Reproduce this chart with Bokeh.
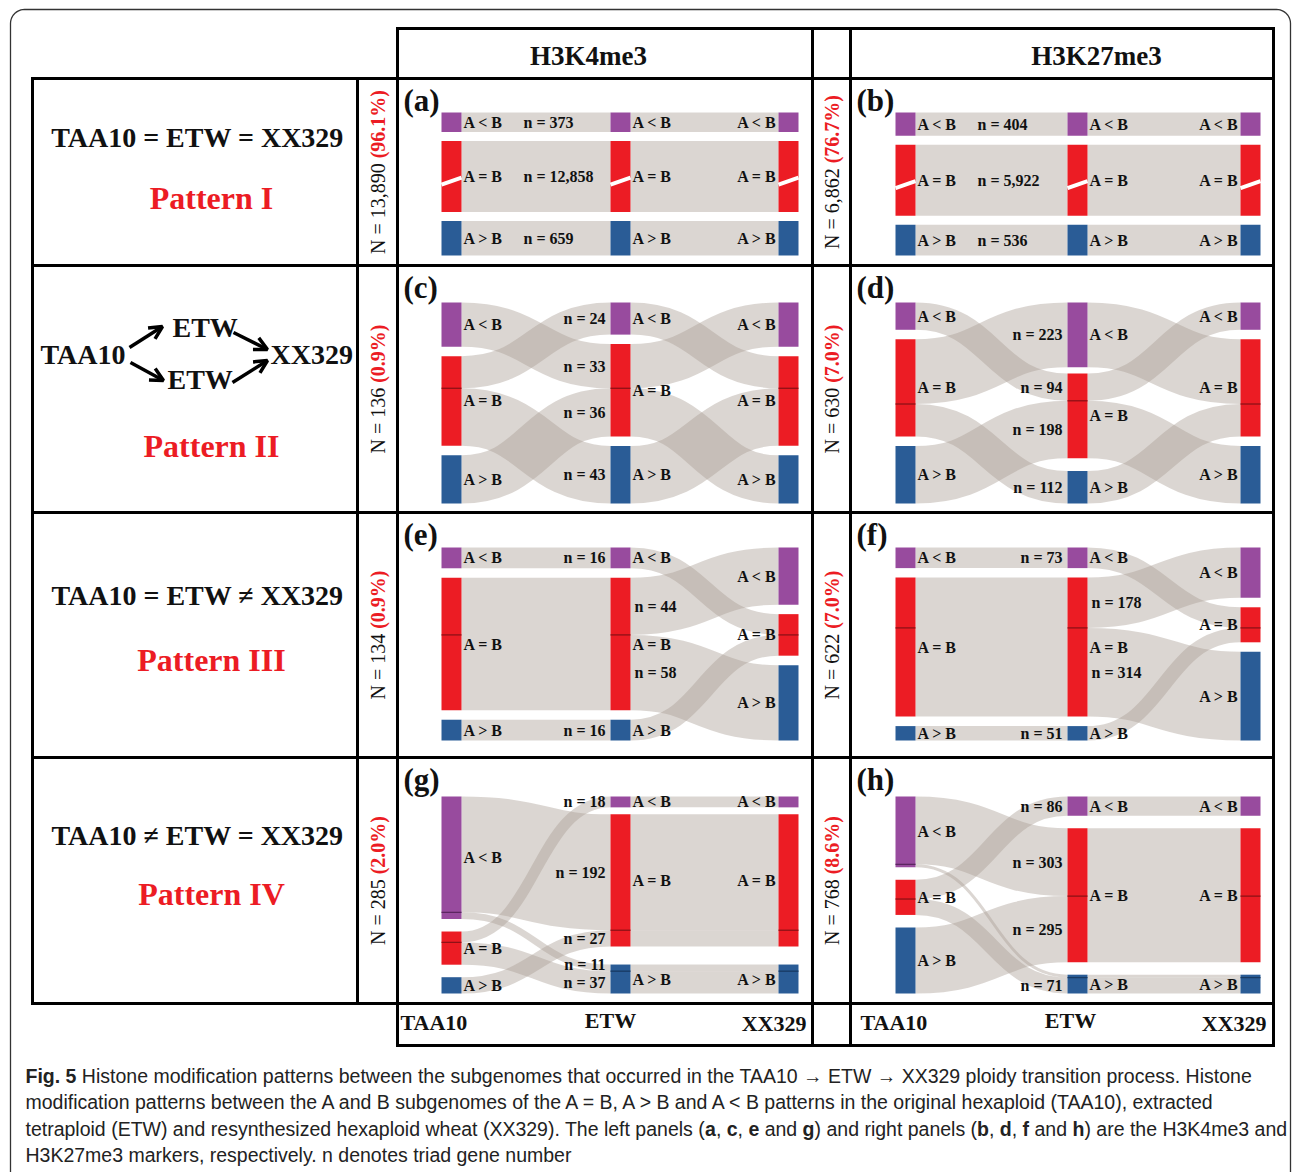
import math
from bokeh.plotting import figure
from bokeh.models import Range1d, Arrow, OpenHead
from bokeh.core.properties import value
from bokeh.embed import file_html
from bokeh.resources import INLINE

# ---------------- data ----------------
stages = ["TAA10", "ETW", "XX329"]
marks = ["H3K4me3", "H3K27me3"]
states = ["<", "=", ">"]
state_labels = {"<": "A < B", "=": "A = B", ">": "A > B"}
pattern_names = ["Pattern I", "Pattern II", "Pattern III", "Pattern IV"]
pattern_rules = ["TAA10 = ETW = XX329", "", "TAA10 = ETW \u2260 XX329", "TAA10 \u2260 ETW = XX329"]
panel_letters = ["a", "b", "c", "d", "e", "f", "g", "h"]
total_k4 = [13890, 136, 134, 285]
share_k4 = ["96.1%", "0.9%", "0.9%", "2.0%"]
total_k27 = [6862, 630, 622, 768]
share_k27 = ["76.7%", "7.0%", "7.0%", "8.6%"]

# triad trajectories: (TAA10 state, ETW state, XX329 state, n)
flows_a = [("<", "<", "<", 373), ("=", "=", "=", 12858), (">", ">", ">", 659)]
flows_b = [("<", "<", "<", 404), ("=", "=", "=", 5922), (">", ">", ">", 536)]
flows_c = [("<", "=", "<", 33), ("=", "<", "=", 24), ("=", ">", "=", 43), (">", "=", ">", 36)]
flows_d = [("<", "=", "<", 94), ("=", "<", "=", 223), ("=", ">", "=", 112), (">", "=", ">", 198)]
flows_e = [("<", "<", "=", 16), ("=", "=", "<", 44), ("=", "=", ">", 58), (">", ">", "=", 16)]
flows_f = [("<", "<", "=", 73), ("=", "=", "<", 178), ("=", "=", ">", 314), (">", ">", "=", 51)]
flows_g = [("<", "=", "=", 192), ("<", ">", ">", 11), ("=", "<", "<", 18), ("=", ">", ">", 37), (">", "=", "=", 27)]
flows_h = [("<", "=", "=", 303), ("<", ">", ">", 13), ("=", "<", "<", 86), ("=", ">", ">", 71), (">", "=", "=", 295)]
unlabeled_flows = {"h": [("<", ">", ">")]}

caption_lines = [
    [("Fig. 5", True), (" Histone modification patterns between the subgenomes that occurred in the TAA10 \u2192 ETW \u2192 XX329 ploidy transition process. Histone", False)],
    [("modification patterns between the A and B subgenomes of the A = B, A > B and A < B patterns in the original hexaploid (TAA10), extracted", False)],
    [("tetraploid (ETW) and resynthesized hexaploid wheat (XX329). The left panels (", False), ("a", True), (", ", False), ("c", True),
     (", ", False), ("e", True), (" and ", False), ("g", True), (") and right panels (", False), ("b", True), (", ", False), ("d", True),
     (", ", False), ("f", True), (" and ", False), ("h", True), (") are the H3K4me3 and", False)],
    [("H3K27me3 markers, respectively. n denotes triad gene number", False)],
]

# ---------------- style / layout ----------------
SERIF = value("Liberation Serif")
CAPFONT = value("Liberation Sans")
ROW_TOP = [78, 265, 512, 757, 1003]
NODE_SPAN = [(112, 255), (302, 503), (547, 740), (796, 993)]
NODE_GAP = [9, 9.5, 9.5, 12.5]
COL_X = [[441, 610, 778], [895, 1067, 1240]]
CELL_X = [397, 850]
NLAB_X = [377, 831]
NODE_W = 20
BREAK_H = 71
LABEL_MIN_SEP = 18
GAP_SPLIT = {("d", 1): 0.33, ("g", 1): 0.28, ("g", 2): 0.28}
NODE_COL = {"<": "#984B9E", "=": "#EC1C24", ">": "#2A5C96"}
NODE_DARK = {"<": "#5B2660", "=": "#8E1116", ">": "#183A63"}
LINK_COL = "#A99E94"
LINK_ALPHA = 0.42
RED = "#EC1C24"
INK = "#111111"

W, H = 1292, 1172
p = figure(width=W, height=H, x_range=Range1d(0, W), y_range=Range1d(H, 0),
           output_backend="svg", toolbar_location=None, min_border=0,
           x_axis_location=None, y_axis_location=None, outline_line_color=None)
p.grid.visible = False

# outer rounded frame
def arc(cx, cy, r, a0, a1):
    pts = [a0 + (a1 - a0) * i / 12 for i in range(13)]
    return [cx + r * math.cos(a) for a in pts], [cy + r * math.sin(a) for a in pts]

r = 14
fx, fy = [10], [1180]
ax, ay = arc(10 + r, 9 + r, r, math.pi, 1.5 * math.pi)
fx += ax; fy += ay
ax, ay = arc(1290 - r, 9 + r, r, 1.5 * math.pi, 2 * math.pi)
fx += ax; fy += ay
fx += [1290]; fy += [1180]
p.line(fx, fy, line_color="#333333", line_width=1.3)

# ---------------- sankey layout ----------------
def layout(key, flows, row):
    y0, y1 = NODE_SPAN[row]
    span = y1 - y0
    gap = NODE_GAP[row]
    tot = [{s: 0 for s in states} for _ in range(3)]
    for f in flows:
        for c in range(3):
            tot[c][f[c]] += f[3]
    broken = row == 0
    if broken:
        small = tot[0]["<"] + tot[0][">"]
        k = (span - 2 * gap - BREAK_H) / small
    else:
        k = (span - 2 * gap) / max(sum(t.values()) for t in tot)
    nodes, segs = {}, {}
    order_keys = [(1, 2), (0, 2), (1, 0)]
    for c in range(3):
        hs = {s: (BREAK_H if (broken and s == "=") else tot[c][s] * k) for s in states}
        free = span - sum(hs.values())
        fr = GAP_SPLIT.get((key, c), 0.5)
        gaps = [0, free * fr, free * (1 - fr)]
        y = y0
        for i, s in enumerate(states):
            y += gaps[i]
            nodes[(c, s)] = (y, y + hs[s])
            ok = order_keys[c]
            members = [fi for fi, f in enumerate(flows) if f[c] == s]
            members.sort(key=lambda fi: (states.index(flows[fi][ok[0]]), states.index(flows[fi][ok[1]])))
            yy = y
            for fi in members:
                hh = hs[s] * flows[fi][3] / tot[c][s]
                segs[(fi, c)] = (yy, yy + hh)
                yy += hh
            y += hs[s]
    return nodes, segs, broken

panels = [("a", flows_a), ("b", flows_b), ("c", flows_c), ("d", flows_d),
          ("e", flows_e), ("f", flows_f), ("g", flows_g), ("h", flows_h)]

bz = dict(x0=[], y0=[], x1=[], y1=[], cx0=[], cy0=[], cx1=[], cy1=[], w=[])
nq = dict(l=[], r=[], t=[], b=[], c=[])
sep = dict(x0=[], x1=[], y=[], c=[])
slash = dict(x0=[], x1=[], y0=[], y1=[])
lab_l = dict(x=[], y=[], t=[])
lab_r = dict(x=[], y=[], t=[])
nlab_l = dict(x=[], y=[], t=[])
nlab_r = dict(x=[], y=[], t=[])

def add_spread(store, items):
    # keep count labels of one panel from overlapping: push upper ones up
    items = sorted(items, key=lambda it: -it[1])
    for j in range(1, len(items)):
        if items[j][1] > items[j - 1][1] - LABEL_MIN_SEP:
            items[j] = (items[j][0], items[j - 1][1] - LABEL_MIN_SEP, items[j][2])
    for xx, yy, tt in items:
        store["x"].append(xx); store["y"].append(yy); store["t"].append(tt)

for i, (key, flows) in enumerate(panels):
    row, side = i // 2, i % 2
    cx = COL_X[side]
    nodes, segs, broken = layout(key, flows, row)
    for fi, f in enumerate(flows):
        for c in range(2):
            s0 = segs[(fi, c)]
            s1 = segs[(fi, c + 1)]
            xa, xb = cx[c] + NODE_W, cx[c + 1]
            ya, yb = (s0[0] + s0[1]) / 2, (s1[0] + s1[1]) / 2
            xm = (xa + xb) / 2
            bz["x0"].append(xa); bz["y0"].append(ya); bz["x1"].append(xb); bz["y1"].append(yb)
            bz["cx0"].append(xm); bz["cy0"].append(ya); bz["cx1"].append(xm); bz["cy1"].append(yb)
            bz["w"].append(s0[1] - s0[0])
    for c in range(3):
        for s in states:
            t, b = nodes[(c, s)]
            nq["l"].append(cx[c]); nq["r"].append(cx[c] + NODE_W)
            nq["t"].append(t); nq["b"].append(b); nq["c"].append(NODE_COL[s])
            bounds = sorted(v[1] for (fi, cc), v in segs.items() if cc == c and flows[fi][c] == s)
            for yb_ in bounds[:-1]:
                sep["x0"].append(cx[c]); sep["x1"].append(cx[c] + NODE_W); sep["y"].append(yb_); sep["c"].append(NODE_DARK[s])
            yc = (t + b) / 2
            if broken and s == "=":
                slash["x0"].append(cx[c]); slash["x1"].append(cx[c] + NODE_W)
                slash["y0"].append(yc + 8); slash["y1"].append(yc + 1)
            if c < 2:
                lab_l["x"].append(cx[c] + NODE_W + 2); lab_l["y"].append(yc); lab_l["t"].append(state_labels[s])
            else:
                lab_r["x"].append(cx[c] - 2); lab_r["y"].append(yc); lab_r["t"].append(state_labels[s])
    skip = unlabeled_flows.get(key, [])
    left_items, right_items = [], []
    for fi, f in enumerate(flows):
        if tuple(f[:3]) in skip:
            continue
        txt = "n = {:,}".format(f[3])
        if row == 0:
            s0 = segs[(fi, 0)]
            left_items.append((cx[0] + NODE_W + 62, (s0[0] + s0[1]) / 2, txt))
        else:
            s1 = segs[(fi, 1)]
            ym = (s1[0] + s1[1]) / 2
            if row == 2 and f[1] == "=":
                left_items.append((cx[1] + NODE_W + 4, ym, txt))
            else:
                right_items.append((cx[1] - 5, ym, txt))
    add_spread(nlab_l, left_items)
    add_spread(nlab_r, right_items)

p.bezier(x0="x0", y0="y0", x1="x1", y1="y1", cx0="cx0", cy0="cy0", cx1="cx1", cy1="cy1",
         source=bz, line_color=LINK_COL, line_alpha=LINK_ALPHA, line_width="w", line_cap="butt")
p.quad(left="l", right="r", top="t", bottom="b", fill_color="c", line_color=None, source=nq)
p.segment(x0="x0", x1="x1", y0="y", y1="y", line_color="c", line_width=1.3, source=sep)
p.segment(x0="x0", x1="x1", y0="y0", y1="y1", line_color="white", line_width=4, source=slash)

lab_kw = dict(text_font=SERIF, text_font_size="16px", text_font_style="bold",
              text_color=INK, text_baseline="middle")
p.text(x="x", y="y", text="t", source=lab_l, text_align="left", **lab_kw)
p.text(x="x", y="y", text="t", source=lab_r, text_align="right", **lab_kw)
p.text(x="x", y="y", text="t", source=nlab_l, text_align="left", **lab_kw)
p.text(x="x", y="y", text="t", source=nlab_r, text_align="right", **lab_kw)

for i, L in enumerate(panel_letters):
    row, side = i // 2, i % 2
    p.text(x=[CELL_X[side] + 6], y=[ROW_TOP[row] + 22], text=["(" + L + ")"], text_font=SERIF,
           text_font_size="31px", text_font_style="bold", text_color=INK,
           text_align="left", text_baseline="middle")

# ---------------- table grid ----------------
hlines = [(397, 1273, 28), (32, 1273, 78), (32, 1273, 265), (32, 1273, 512),
          (32, 1273, 757), (32, 1273, 1003), (397, 1273, 1045)]
vlines = [(32, 78, 1003), (357, 78, 1003), (397, 28, 1045), (812, 28, 1045),
          (850, 28, 1045), (1273, 28, 1045)]
p.segment(x0=[h[0] for h in hlines], x1=[h[1] for h in hlines], y0=[h[2] for h in hlines],
          y1=[h[2] for h in hlines], line_color="black", line_width=3, line_cap="square")
p.segment(x0=[v[0] for v in vlines], x1=[v[0] for v in vlines], y0=[v[1] for v in vlines],
          y1=[v[2] for v in vlines], line_color="black", line_width=3, line_cap="square")

head_kw = dict(text_font=SERIF, text_font_style="bold", text_color=INK, text_baseline="middle")
p.text(x=[588, 1096], y=[55, 55], text=marks, text_font_size="27px", text_align="center", **head_kw)
for side in range(2):
    p.text(x=[[400, 860][side]], y=[1022], text=[stages[0]], text_font_size="22px", text_align="left", **head_kw)
    p.text(x=[[610, 1070][side]], y=[1020], text=[stages[1]], text_font_size="22px", text_align="center", **head_kw)
    p.text(x=[[806, 1266][side]], y=[1023], text=[stages[2]], text_font_size="22px", text_align="right", **head_kw)

rule_y = [137, None, 595, 835]
name_y = [197, 445, 659, 893]
for rI in range(4):
    if pattern_rules[rI]:
        p.text(x=[197], y=[rule_y[rI]], text=[pattern_rules[rI]], text_font_size="28px",
               text_align="center", **head_kw)
    p.text(x=[211], y=[name_y[rI]], text=[pattern_names[rI]], text_font=SERIF, text_font_size="32px",
           text_font_style="bold", text_color=RED, text_align="center", text_baseline="middle")

p.text(x=[40, 172, 167, 270], y=[354, 327, 379, 354], text=["TAA10", "ETW", "ETW", "XX329"],
       text_font_size="28px", text_align="left", **head_kw)
for (xa, ya, xb, yb) in [(129, 347, 162, 326), (130, 362, 163, 380), (233, 332, 267, 349), (232, 382, 267, 360)]:
    p.add_layout(Arrow(end=OpenHead(size=13, line_width=3.5, line_color="black"),
                       x_start=xa, y_start=ya, x_end=xb, y_end=yb, line_width=3.5, line_color="black"))

TR = {" ": 250, "N": 722, "=": 564, ",": 250, ".": 250, "(": 333, ")": 333, "%": 833}
TB = {" ": 250, "N": 722, "=": 570, ",": 250, ".": 250, "(": 333, ")": 333, "%": 1000}
def tw_times(s, size, tab):
    return sum(tab.get(ch, 500) for ch in s) * size / 1000.0

NFS = 20
for side, (tots, shares) in enumerate([(total_k4, share_k4), (total_k27, share_k27)]):
    for rI in range(4):
        black = "N = {:,} ".format(tots[rI])
        red = "(" + shares[rI] + ")"
        wb, wr = tw_times(black, NFS, TR), tw_times(red, NFS, TB)
        yc = (ROW_TOP[rI] + ROW_TOP[rI + 1]) / 2
        ys = yc + (wb + wr) / 2
        p.text(x=[NLAB_X[side]], y=[ys], text=[black.strip()], angle=math.pi / 2, text_font=SERIF,
               text_font_size="%dpx" % NFS, text_color=INK, text_align="left", text_baseline="middle")
        p.text(x=[NLAB_X[side]], y=[ys - wb], text=[red], angle=math.pi / 2, text_font=SERIF,
               text_font_size="%dpx" % NFS, text_font_style="bold", text_color=RED,
               text_align="left", text_baseline="middle")

# ---------------- caption ----------------
HR = dict(zip(" !()*+,-./:;<=>", [278, 278, 333, 333, 389, 584, 278, 333, 278, 278, 278, 278, 584, 584, 584]))
HR.update({d: 556 for d in "0123456789"})
HR.update(dict(zip("ABCDEFGHIJKLMNOPQRSTUVWXYZ",
                   [667, 667, 722, 722, 667, 611, 778, 722, 278, 500, 667, 556, 833, 722, 778, 667, 778, 722, 667, 611, 722, 667, 944, 667, 667, 611])))
HR.update(dict(zip("abcdefghijklmnopqrstuvwxyz",
                   [556, 556, 500, 556, 556, 278, 556, 556, 222, 222, 500, 222, 833, 556, 556, 556, 556, 333, 500, 278, 556, 500, 722, 500, 500, 500])))
HR["\u2192"] = 1000
HB = dict(HR)
HB.update({"a": 556, "b": 611, "c": 556, "d": 611, "e": 556, "f": 333, "g": 611, "h": 611, "i": 278, "F": 611, ".": 278, " ": 278})

def tw_cap(s, size, bold):
    tab = HB if bold else HR
    return sum(tab.get(ch, 556) for ch in s) * size / 1000.0

line1_units = sum(tw_cap(t, 1000, b) for t, b in caption_lines[0])
CFS = round(1225.0 / line1_units * 1000, 1)
cap_y = [1075, 1101.5, 1128, 1154.5]
for li, runs in enumerate(caption_lines):
    x = 25.0
    for t, b in runs:
        lead = len(t) - len(t.lstrip(" "))
        core = t.strip(" ")
        if core:
            p.text(x=[x + tw_cap(" " * lead, CFS, b)], y=[cap_y[li]], text=[core], text_font=CAPFONT,
                   text_font_size="%.1fpx" % CFS, text_font_style="bold" if b else "normal",
                   text_color="#222222", text_align="left", text_baseline="middle")
        x += tw_cap(t, CFS, b)

open("out.html", "w").write(file_html(p, INLINE))
